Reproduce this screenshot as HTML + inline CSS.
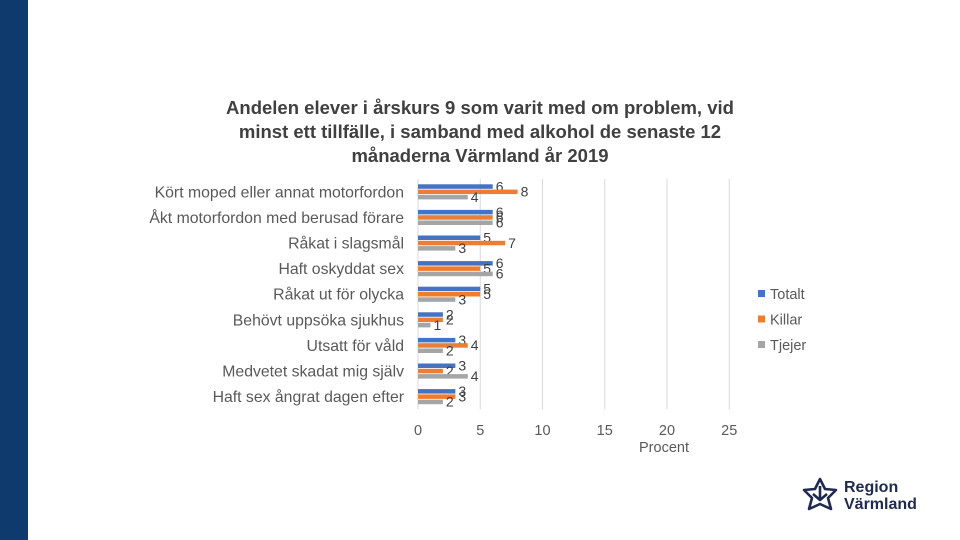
<!DOCTYPE html>
<html><head><meta charset="utf-8"><style>
body{margin:0;width:960px;height:540px;background:#fff;overflow:hidden;font-family:"Liberation Sans",sans-serif;}
#stripe{position:absolute;left:0;top:0;width:28px;height:540px;background:#0e3a6e;}
#title{position:absolute;left:130px;top:96px;width:700px;text-align:center;font-weight:bold;font-size:18.5px;line-height:24px;color:#404040;white-space:nowrap;}
svg{position:absolute;left:0;top:0;}
</style></head><body>
<div id="stripe"></div>
<div id="title">Andelen elever i årskurs 9 som varit med om problem, vid<br>minst ett tillfälle, i samband med alkohol de senaste 12<br>månaderna Värmland år 2019</div>
<svg id="chart" width="960" height="540"></svg>
<div style="position:absolute;left:800px;top:476px;width:140px;height:40px;">
<svg width="40" height="40" viewBox="0 0 40 40" style="position:absolute;left:0;top:0;"><g fill="none" stroke="#1f2a4e" stroke-width="2.6" stroke-linejoin="round">
<path d="M20 3 L25 13 L36 14 L28 22 L31 33 L20 28 L9 33 L12 22 L4 14 L15 13 Z"/><path d="M20 10 L20 24 M13 18 L20 24 L27 18"/></g></svg>
<div style="position:absolute;left:44px;top:3px;font-weight:bold;font-size:16px;line-height:17px;color:#1f2a4e;">Region<br>Värmland</div>
</div>
<script>
const categories=["Kört moped eller annat motorfordon","Åkt motorfordon med berusad förare","Råkat i slagsmål","Haft oskyddat sex","Råkat ut för olycka","Behövt uppsöka sjukhus","Utsatt för våld","Medvetet skadat mig själv","Haft sex ångrat dagen efter"];
const totalt=[6,6,5,6,5,2,3,3,3];
const killar=[8,6,7,5,5,2,4,2,3];
const tjejer=[4,6,3,6,3,1,2,4,2];
const seriesNames=["Totalt","Killar","Tjejer"];
const xTicks=[0,5,10,15,20,25];
const colors=["#4472c4","#ed7d31","#a5a5a5"];
const NS="http://www.w3.org/2000/svg";
const svg=document.getElementById('chart');
const x0=418,pxPer=12.45;
const xs=v=>x0+v*pxPer;
const yTop=179,rowH=25.6;
const yc=i=>yTop+rowH*(i+0.5);
function mk(t,a){const e=document.createElementNS(NS,t);for(const k in a)e.setAttribute(k,a[k]);svg.appendChild(e);return e;}
xTicks.forEach(t=>{
 const g=mk('line',{x1:xs(t),x2:xs(t),y1:yTop,y2:yTop+rowH*categories.length,stroke:'#d9d9d9','stroke-width':1});
 
 
 const l=mk('text',{x:xs(t),y:435,'text-anchor':'middle','font-size':14.5,fill:'#595959'});l.textContent=t;
 
 
});
const xt=mk('text',{x:664,y:452,'text-anchor':'middle','font-size':14.5,fill:'#595959'});xt.textContent='Procent';


const series=[totalt,killar,tjejer];
categories.forEach((c,i)=>{
 const t=mk('text',{x:404,y:yc(i)+5.5,'text-anchor':'end','font-size':15.8,fill:'#595959'});t.textContent=c;
 
 
 series.forEach((s,j)=>{
  const y=yc(i)-7.5+j*5.3;
  const r=mk('rect',{x:x0,y:y,width:xs(s[i])-x0,height:4.5,fill:colors[j]});
  
  
  const v=mk('text',{x:xs(s[i])+3,y:y+7,'font-size':14,fill:'#404040'});v.textContent=s[i];
  
  
 });
});
seriesNames.forEach((n,j)=>{
 const y=294+j*25.5;
 const r=mk('rect',{x:758,y:y-4,width:7,height:7,fill:colors[j]});
 
 
 const t=mk('text',{x:770,y:y+5,'font-size':14.5,fill:'#595959'});t.textContent=n;
 
 
});
</script>
</body></html>
